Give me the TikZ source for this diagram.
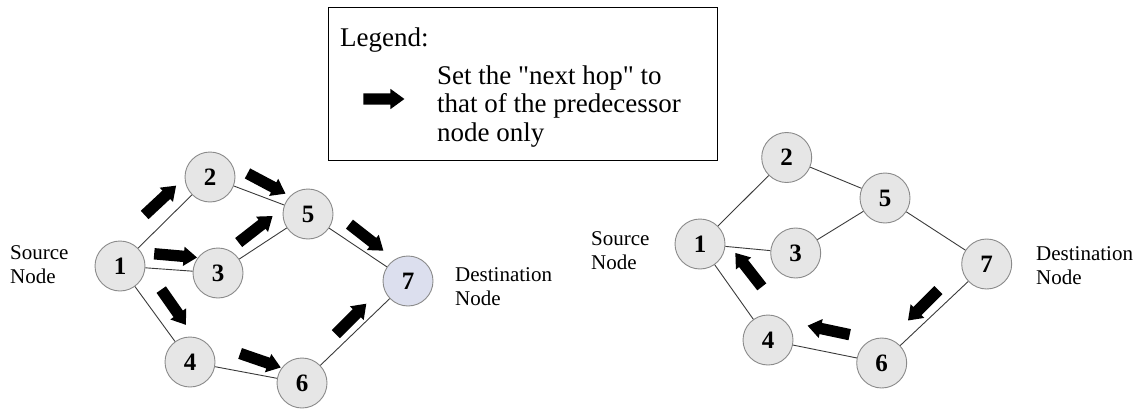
\documentclass[tikz,border=0pt]{standalone}
\usepackage{fontspec}
\setmainfont{Liberation Serif}[Ligatures=TeXOff]
\usetikzlibrary{shapes.arrows}
\definecolor{nodefill}{HTML}{E6E6E6}
\definecolor{destfill}{HTML}{DCDFEE}
\definecolor{rimgray}{HTML}{8A8A8A}
\definecolor{linkgray}{HTML}{3A3A3A}

\begin{document}
\begin{tikzpicture}[x=1pt,y=-1pt,
  hop/.style={circle,draw=rimgray,line width=0.9pt,fill=nodefill,minimum size=50pt,
    inner sep=0pt,font=\fontsize{25}{25}\selectfont\bfseries},
  link/.style={draw=linkgray,line width=0.9pt},
  blk/.style={single arrow,fill=black,draw=none,minimum height=43pt,minimum width=19pt,
    inner xsep=0pt,inner ysep=5.5pt,single arrow head extend=4pt,single arrow tip angle=72},
  lbl/.style={font=\fontsize{21}{24}\selectfont,align=left,inner sep=0pt,anchor=west},
]
\useasboundingbox (0,0) rectangle (1142,412);

% ---- legend ----
\node[draw=black,line width=1.2pt,minimum width=389pt,minimum height=153pt,inner sep=0pt,
      anchor=north west] (legend) at (328,7) {};
\node[font=\fontsize{27}{28.5}\selectfont,inner sep=0pt,anchor=base west] (legtitle) at (340,47) {Legend:};
\node[font=\fontsize{27}{28.5}\selectfont,align=left,inner sep=0pt,anchor=north west]
  (legtext) at (437,65.5) {Set the "next hop" to\\that of the predecessor\\node only};
\node[blk,minimum height=41pt,minimum width=20pt,single arrow head extend=4.5pt] (legarrow) at (380,99) {};

% ---- left network: forward direction ----
\node[hop] (n1) at (120,266) {1};
\node[hop] (n2) at (210,177) {2};
\node[hop] (n3) at (218,273) {3};
\node[hop] (n4) at (190,362) {4};
\node[hop] (n5) at (308,214) {5};
\node[hop] (n6) at (302,383) {6};
\node[hop,fill=destfill] (n7) at (408,281) {7};

\path[link] (n1) -- (n2) (n1) -- (n3) (n1) -- (n4)
            (n2) -- (n5) (n3) -- (n5) (n5) -- (n7)
            (n4) -- (n6) (n6) -- (n7);

\node[blk,rotate=43]  (f12) at (157.5,203) {};
\node[blk,rotate=-28] (f25) at (263,181.7) {};
\node[blk,rotate=-5]  (f13) at (171.7,255.3) {};
\node[blk,rotate=38]  (f35) at (252.5,231.7) {};
\node[blk,rotate=-55] (f14) at (171.3,304) {};
\node[blk,rotate=-19] (f46) at (256.7,359.2) {};
\node[blk,rotate=45]  (f67) at (348.3,321.7) {};
\node[blk,rotate=-38] (f57) at (363.3,235) {};

\node[lbl] (srcL) at (10,265) {Source\\Node};
\node[lbl] (dstL) at (455,287) {Destination\\Node};

% ---- right network: reverse direction ----
\node[hop] (m1) at (700,244) {1};
\node[hop] (m2) at (786.7,157.5) {2};
\node[hop] (m3) at (795.7,253) {3};
\node[hop] (m4) at (768,340) {4};
\node[hop] (m5) at (885,198) {5};
\node[hop] (m6) at (881.7,363) {6};
\node[hop] (m7) at (986.7,264) {7};

\path[link] (m1) -- (m2) (m1) -- (m3) (m1) -- (m4)
            (m2) -- (m5) (m3) -- (m5) (m5) -- (m7)
            (m4) -- (m6) (m6) -- (m7);

\node[blk,rotate=128] (r41) at (751,273) {};
\node[blk,rotate=168] (r64) at (832.5,331) {};
\node[blk,rotate=225] (r76) at (926,302.5) {};

\node[lbl] (srcR) at (591,251) {Source\\Node};
\node[lbl] (dstR) at (1036,266) {Destination\\Node};
\end{tikzpicture}
\end{document}
